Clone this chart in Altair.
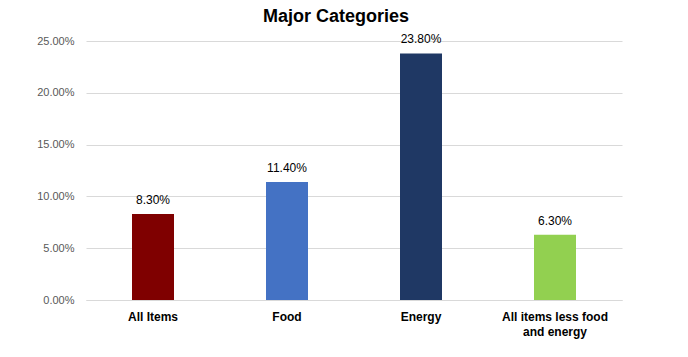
import altair as alt
import pandas as pd

categories = ["All Items", "Food", "Energy", "All items less food and energy"]
values = [0.083, 0.114, 0.238, 0.063]
colors = ["#7F0000", "#4472C4", "#1F3864", "#92D050"]
y_ticks = [0, 0.05, 0.10, 0.15, 0.20, 0.25]

df = pd.DataFrame({"category": categories, "value": values, "color": colors})

base = alt.Chart(df).encode(
    x=alt.X(
        "category:N",
        sort=categories,
        scale=alt.Scale(paddingInner=0, paddingOuter=0),
        axis=alt.Axis(
            title=None,
            labelAngle=0,
            labelFont="Liberation Sans",
            labelFontSize=12,
            labelFontWeight="bold",
            labelColor="#000000",
            labelPadding=11,
            labelLineHeight=15,
            labelExpr="datum.value == 'All items less food and energy' ? ['All items less food', 'and energy'] : datum.value",
            domainColor="#d9d9d9",
            ticks=False,
            grid=False,
        ),
    )
)

bars = base.mark_bar(size=42).encode(
    y=alt.Y(
        "value:Q",
        scale=alt.Scale(domain=[0, 0.25], nice=False),
        axis=alt.Axis(
            title=None,
            values=y_ticks,
            format=".2%",
            labelFont="Liberation Sans",
            labelFontSize=11,
            labelColor="#595959",
            labelPadding=12,
            domain=False,
            ticks=False,
            gridColor="#d9d9d9",
        ),
    ),
    color=alt.Color("color:N", scale=None),
)

labels = base.mark_text(
    baseline="bottom", dy=-7, font="Liberation Sans", fontSize=12, color="#000000"
).encode(
    y=alt.Y("value:Q"),
    text=alt.Text("value:Q", format=".2%"),
)

chart = (
    (bars + labels)
    .properties(
        width=536,
        height=259,
        title=alt.TitleParams(
            "Major Categories",
            font="Liberation Sans",
            fontSize=18,
            fontWeight="bold",
            color="#000000",
            anchor="middle",
            offset=7,
            dx=-18,
        ),
        autosize=alt.AutoSizeParams(type="none"),
        padding={"left": 86, "top": 41, "right": 66, "bottom": 57},
    )
    .configure_view(stroke=None)
)

chart.save("out.html", embed_options={"renderer": "svg", "actions": False})
